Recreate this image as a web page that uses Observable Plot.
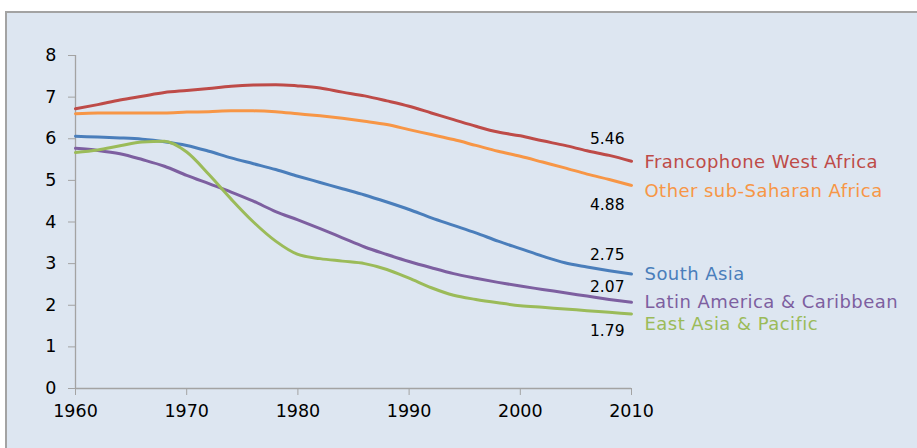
<!DOCTYPE html>
<html>
<head>
<meta charset="utf-8">
<script src="https://cdn.jsdelivr.net/npm/d3@7"></script>
<script src="https://cdn.jsdelivr.net/npm/@observablehq/plot@0.6"></script>
<style>
  html, body { margin: 0; padding: 0; background: #ffffff; width: 917px; height: 448px; overflow: hidden; }
  #panel { position: absolute; left: 5px; top: 11px; width: 930px; height: 460px; background: #dde6f1; border-left: 2px solid #a3a3a3; border-top: 2px solid #a3a3a3; }
  #chart { position: absolute; left: 0; top: 0; }
</style>
</head>
<body>
<div id="panel"></div>
<div id="chart"></div>
<script>
const years = [1960,1962,1964,1966,1968,1970,1972,1974,1976,1978,1980,1982,1984,1986,1988,1990,1992,1994,1996,1998,2000,2002,2004,2006,2008,2010];

const francophoneWestAfrica = [6.72,6.82,6.93,7.02,7.11,7.16,7.21,7.26,7.29,7.30,7.27,7.22,7.12,7.03,6.91,6.78,6.62,6.46,6.30,6.16,6.07,5.95,5.84,5.71,5.60,5.46];
const otherSubSaharanAfrica = [6.60,6.62,6.62,6.62,6.62,6.64,6.65,6.67,6.67,6.65,6.60,6.55,6.49,6.42,6.34,6.22,6.10,5.98,5.84,5.70,5.58,5.44,5.30,5.15,5.02,4.88];
const southAsia = [6.06,6.04,6.02,5.99,5.93,5.84,5.70,5.54,5.40,5.26,5.10,4.95,4.80,4.65,4.48,4.30,4.10,3.92,3.74,3.54,3.36,3.18,3.02,2.92,2.83,2.75];
const latinAmerica = [5.77,5.72,5.64,5.50,5.34,5.12,4.92,4.72,4.50,4.25,4.05,3.84,3.62,3.40,3.22,3.05,2.90,2.76,2.65,2.55,2.46,2.38,2.30,2.22,2.14,2.07];
const eastAsia = [5.67,5.73,5.83,5.92,5.94,5.68,5.14,4.55,4.00,3.54,3.22,3.12,3.06,3.00,2.86,2.65,2.42,2.24,2.14,2.06,1.99,1.95,1.91,1.87,1.83,1.79];

const seriesNames = ["Francophone West Africa","Other sub-Saharan Africa","South Asia","Latin America & Caribbean","East Asia & Pacific"];
const seriesColors = ["#be4b48","#f79646","#4a7ebb","#7d5fa0","#9bbb59"];
const endValues = [5.46, 4.88, 2.75, 2.07, 1.79];
const endValueLabels = ["5.46","4.88","2.75","2.07","1.79"];
const xTicks = [1960,1970,1980,1990,2000,2010];
const yTicks = [0,1,2,3,4,5,6,7,8];

const seriesValues = [francophoneWestAfrica, otherSubSaharanAfrica, southAsia, latinAmerica, eastAsia];
const data = seriesNames.flatMap((name, i) => years.map((year, j) => ({series: name, year, value: seriesValues[i][j]})));
const ends = seriesNames.map((name, i) => ({series: name, year: 2010, value: endValues[i], label: endValueLabels[i]}));

// per-label offsets (styles only)
const valueDy = [-22, 20, -19, -15, 17];
const nameDy = [1, 6, 0, 0, 10];

const chart = Plot.plot({
  width: 917,
  height: 448,
  marginLeft: 75,
  marginRight: 286,
  marginTop: 55,
  marginBottom: 60,
  style: {background: "transparent", fontFamily: "DejaVu Sans, sans-serif", fontSize: "18px", color: "#000"},
  x: {domain: [1960, 2010], axis: null},
  y: {domain: [0, 8], axis: null},
  color: {domain: seriesNames, range: seriesColors},
  marks: [
    Plot.ruleX([1960], {stroke: "#a3a3a3", strokeWidth: 1.3}),
    Plot.ruleY([0], {stroke: "#a3a3a3", strokeWidth: 1.3}),
    Plot.axisX({ticks: xTicks, tickFormat: d => String(d), tickSize: 7, tickPadding: 9, stroke: "#a3a3a3", fill: "#000", fontSize: 17.5, label: null}),
    Plot.axisY({ticks: yTicks, tickSize: 7, tickPadding: 12, stroke: "#a3a3a3", fill: "#000", fontSize: 17.5, label: null}),
    Plot.line(data, {x: "year", y: "value", z: "series", stroke: "series", strokeWidth: 3, curve: "monotone-x"}),
    ...ends.map((d, i) => Plot.text([d], {x: "year", y: "value", text: "label", textAnchor: "end", dx: -7, dy: valueDy[i], fill: "#000", fontSize: 15.5})),
    ...ends.map((d, i) => Plot.text([d], {x: "year", y: "value", text: "series", textAnchor: "start", dx: 13, dy: nameDy[i], fill: seriesColors[i], fontSize: 18}))
  ]
});
d3.select(chart).selectAll("text")
  .filter(function() { return seriesNames.includes(this.textContent); })
  .attr("letter-spacing", "0.45px");
document.getElementById("chart").appendChild(chart);
</script>
</body>
</html>
